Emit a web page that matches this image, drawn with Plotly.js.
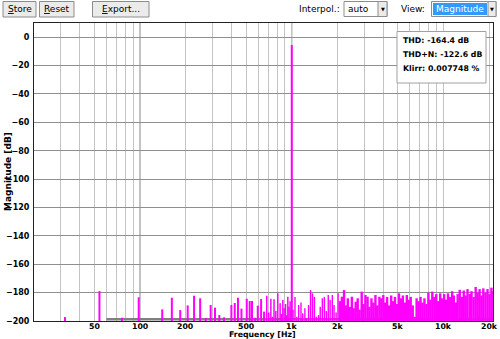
<!DOCTYPE html>
<html><head><meta charset="utf-8">
<script src="https://cdn.plot.ly/plotly-3.0.1.min.js"></script>
<style>html,body{margin:0;padding:0;background:#fff;}#chart{width:500px;height:339px;}</style>
</head><body><div id="chart"></div>
<script>
// ---- data ----
const lowFreq = [32, 54, 76, 98, 140, 162, 184, 206, 227, 249, 271, 292, 312, 333, 358, 400, 421, 442, 466, 505, 528, 547, 573, 597, 628, 657];
const lowDb = [-197.2, -178.9, -197.7, -183.3, -191.8, -183.6, -192.3, -189.0, -182.2, -184.0, -197.9, -188.7, -190.6, -195.8, -197.4, -188.7, -187.3, -183.6, -191.3, -184.3, -185.9, -185.9, -197.7, -189.2, -184.5, -193.4];
const midFreq = [684, 705, 728, 745, 764, 785, 809, 838, 855, 873, 890, 910, 925, 942, 958, 975, 990];
const midDb = [-182.2, -194, -184.3, -197, -184.7, -193, -180.5, -187.5, -195, -185.2, -191, -188, -196, -182.9, -190, -186, -192];
const fundFreq = [1000];
const fundDb = [-5.5];
const hfLowFreq = [1020, 1050, 1080, 1110, 1150, 1180, 1220, 1250, 1290, 1330, 1370, 1410, 1450, 1500, 1540, 1590, 1640, 1690, 1740, 1790, 1850, 1900, 1960, 2020];
const hfLowDb = [-192, -183, -197, -188.7, -187, -194.6, -191, -198, -188.7, -178.2, -180.5, -183, -197, -195.8, -190, -184, -183, -193, -181.7, -185, -181.7, -188.7, -194, -180.5];
const hfFreq = [2080, 2140, 2210, 2270, 2340, 2410, 2490, 2560, 2640, 2720, 2800, 2890, 2970, 3060, 3160, 3250, 3350, 3450, 3560, 3660, 3780, 3890, 4010, 4130, 4250, 4380, 4520, 4650, 4790, 4940, 5090, 5240, 5400, 5560, 5730, 5900, 6080, 6270, 6460, 6650, 6850, 7060, 7270, 7490, 7720, 7950, 8190, 8440, 8700, 8960, 9230, 9510, 9800, 10100, 10400, 10700, 11000, 11400, 11700, 12100, 12400, 12800, 13200, 13600, 14000, 14400, 14900, 15300, 15800, 16300, 16800, 17300, 17800, 18300, 18900, 19500, 20100, 20700, 21300];
const hfDb = [-186, -182.9, -178.2, -189, -184, -190, -182.9, -191, -186.4, -184, -192, -179.3, -188, -181.7, -182.9, -190, -184, -187, -181.7, -189, -182.9, -184, -181.7, -187, -183, -189, -182, -186, -183, -188, -180.5, -184, -182, -187, -181.7, -185, -183, -189, -197, -184, -186, -183, -187, -184, -188, -180, -185, -179.3, -183, -181, -186, -180.5, -184, -181, -185, -180.5, -183, -179, -182, -187, -181, -178, -183, -178.5, -182, -177.5, -181, -179, -183, -176, -180, -177.5, -182, -177, -180, -177.5, -181, -176.5, -179];
const floorFreq = [60, 21200];
const floorDb = [-198.8, -198.8];
const xTickVals = [50, 100, 200, 500, 1000, 2000, 5000, 10000, 20000];
const xTickText = ['50', '100', '200', '500', '1k', '2k', '5k', '10k', '20k'];
const yTickVals = [0, -20, -40, -60, -80, -100, -120, -140, -160, -180, -200];
const statLines = ['THD: -164.4 dB', 'THD+N: -122.6 dB', 'Klirr: 0.007748 %'];
const decadeLines = [100, 1000, 10000];

// ---- helpers ----
const W = 500, H = 339, ML = 34, MR = 7, MT = 23, MB = 18;
const PW = W - ML - MR, PH = H - MT - MB;
const px = x => (x - ML) / PW;
const py = y => (H - MB - y) / PH;
const FONT = 'DejaVu Sans';
const BASE = -200;

function sticks(fs, ds) {
  const x = [], y = [];
  fs.forEach((f, i) => { x.push(f, f, null); y.push(BASE, ds[i], null); });
  return { x, y };
}
const MAG = '#ff00ff';
function stickTrace(fs, ds, w) {
  const s = sticks(fs, ds);
  return { type: 'scatter', mode: 'lines', x: s.x, y: s.y, line: { color: MAG, width: w }, hoverinfo: 'skip', showlegend: false };
}

const minorVals = [];
for (let d = 10; d <= 10000; d *= 10) for (let m = 1; m <= 9; m++) { const v = m * d; if (v >= 20 && v <= 21000) minorVals.push(v); }

const traces = [
  { type: 'scatter', mode: 'lines', x: floorFreq, y: floorDb, line: { color: '#808080', width: 2.5 }, hoverinfo: 'skip', showlegend: false },
  stickTrace(lowFreq, lowDb, 2),
  stickTrace(midFreq, midDb, 1.5),
  stickTrace(hfLowFreq, hfLowDb, 1.4),
  stickTrace(hfFreq, hfDb, 2.4),
  stickTrace(fundFreq, fundDb, 2)
];

const shapes = [];
decadeLines.forEach(v => shapes.push({ type: 'line', xref: 'x', yref: 'paper', x0: v, x1: v, y0: 0, y1: 1, line: { color: '#7a7a7a', width: 1 }, layer: 'below' }));
function box(x0, x1, y0, y1, fill, line) {
  shapes.push({ type: 'rect', xref: 'paper', yref: 'paper', x0: px(x0), x1: px(x1), y0: py(y1), y1: py(y0), fillcolor: fill, line: { color: line, width: 1 }, layer: 'above' });
}
// toolbar
box(3, 36, 1.5, 17, '#ebebeb', '#8c8c8c');
box(39.5, 74, 1.5, 17, '#ebebeb', '#8c8c8c');
box(92.5, 149, 1.5, 17, '#ebebeb', '#8c8c8c');
box(344, 387, 1.5, 16.5, '#ffffff', '#8c8c8c');
box(378, 387, 1.5, 16.5, '#ebebeb', '#8c8c8c');
box(431.5, 496, 1.5, 16.5, '#ffffff', '#8c8c8c');
shapes.push({ type: 'rect', xref: 'paper', yref: 'paper', x0: px(433), x1: px(487), y0: py(15), y1: py(3), fillcolor: '#3399ff', line: { width: 0 }, layer: 'above' });
box(488, 496, 1.5, 16.5, '#ebebeb', '#8c8c8c');
// stats box
box(397, 486, 31.5, 83, '#ffffff', '#a0a0a0');

const ann = [];
function txt(text, x, y, opts) {
  ann.push(Object.assign({ text, xref: 'paper', yref: 'paper', x: px(x), y: py(y), showarrow: false, xanchor: 'center', yanchor: 'middle', borderpad: 0, font: { family: FONT, size: 9, color: '#000' } }, opts || {}));
}
txt('<u>S</u>tore', 19.5, 9.5);
txt('<u>R</u>eset', 56.8, 9.5);
txt('<u>E</u>xport...', 121, 9.5);
txt('Interpol.:', 341, 9.5, { xanchor: 'right' });
txt('auto', 347, 9.5, { xanchor: 'left' });
txt('▼', 382.5, 9.5, { font: { family: FONT, size: 5, color: '#000' } });
txt('View:', 426, 9.5, { xanchor: 'right' });
txt('Magnitude', 434.5, 9.5, { xanchor: 'left', font: { family: FONT, size: 9, color: '#ffffff' } });
txt('▼', 492, 9.5, { font: { family: FONT, size: 5, color: '#000' } });
const statY = [40.7, 54.5, 68.3];
statLines.forEach((s, i) => txt(s, 401.5, statY[i], { xanchor: 'left', font: { family: FONT, size: 7.8, color: '#000', weight: 'bold' } }));
txt('Magnitude [dB]', 8, 172, { textangle: -90, font: { family: FONT, size: 9, color: '#000', weight: 'bold' } });
txt('Frequency [Hz]', 262, 334.6, { font: { family: FONT, size: 7.8, color: '#000', weight: 'bold' } });
// x tick labels placed on the x axis scale
xTickVals.forEach((v, i) => ann.push({ text: xTickText[i], xref: 'x', yref: 'paper', x: Math.log10(v), y: py(326.2), showarrow: false, xanchor: 'center', yanchor: 'middle', borderpad: 0, font: { family: FONT, size: 7.8, color: '#000', weight: 'bold' } }));

const layout = {
  width: W, height: H,
  margin: { l: ML, r: MR, t: MT, b: MB, pad: 0 },
  paper_bgcolor: '#ffffff', plot_bgcolor: '#ffffff',
  showlegend: false,
  xaxis: {
    type: 'log', range: [Math.log10(20), Math.log10(21200)],
    tickmode: 'array', tickvals: xTickVals, ticktext: xTickText, showticklabels: false,
    showgrid: true, gridcolor: '#c4c4c4', gridwidth: 1,
    minor: { tickmode: 'array', tickvals: minorVals, showgrid: true, gridcolor: '#c4c4c4', gridwidth: 1, ticks: '' },
    ticks: '',
    showline: true, linecolor: '#222', linewidth: 1, mirror: true, zeroline: false, fixedrange: true
  },
  yaxis: {
    range: [-200, 10], tickmode: 'array', tickvals: yTickVals,
    showgrid: true, gridcolor: '#8f8f8f', gridwidth: 1,
    ticks: '', ticklabelstandoff: 2,
    tickfont: { family: FONT, size: 8, color: '#000', weight: 'bold' },
    showline: true, linecolor: '#222', linewidth: 1, mirror: true, zeroline: false, fixedrange: true
  },
  shapes, annotations: ann
};

Plotly.newPlot('chart', traces, layout, { staticPlot: true, displayModeBar: false });
</script>
</body></html>
